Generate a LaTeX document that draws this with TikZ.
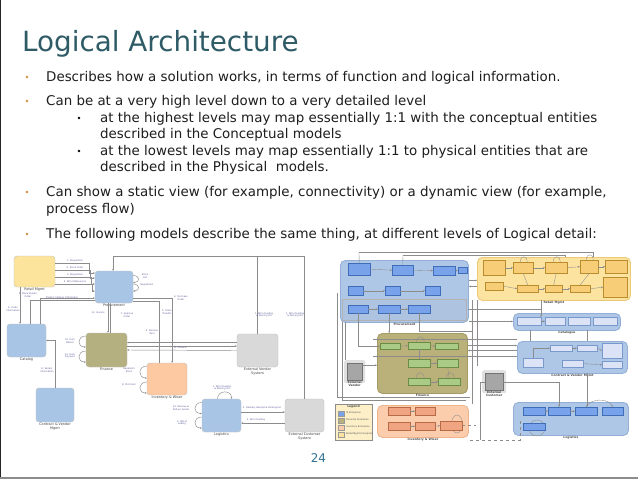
\documentclass[tikz,border=0pt]{standalone}
\usepackage{fontspec}
\setmainfont{DejaVu Sans}
\usetikzlibrary{arrows.meta}
\definecolor{titlec}{HTML}{2E5B66}
\definecolor{bulc}{HTML}{D08B40}
\definecolor{txt}{HTML}{1E1E1E}
\definecolor{pgc}{HTML}{2F7391}
\definecolor{lblue}{HTML}{A9C5E6}
\definecolor{lyel}{HTML}{FCE49C}
\definecolor{lolive}{HTML}{B5B07F}
\definecolor{lpeach}{HTML}{FCC9A3}
\definecolor{lgray}{HTML}{D9D9D9}
\definecolor{lnc}{HTML}{8C8C8C}
\definecolor{labc}{HTML}{5A5A9A}
\definecolor{rgblue}{HTML}{AFC7E6}
\definecolor{rgblueD}{HTML}{93AFD6}
\definecolor{rinblue}{HTML}{78A3EA}
\definecolor{rinblueD}{HTML}{3F6DB8}
\definecolor{rinlav}{HTML}{DCE3F6}
\definecolor{rgyel}{HTML}{FCE3A0}
\definecolor{rgyelD}{HTML}{EBC977}
\definecolor{rinyel}{HTML}{F8CD78}
\definecolor{rinyelD}{HTML}{B98C2E}
\definecolor{rgolive}{HTML}{BAB07A}
\definecolor{rgoliveD}{HTML}{A39A66}
\definecolor{ringreen}{HTML}{A9CB85}
\definecolor{ringreenD}{HTML}{6B8C45}
\definecolor{rgpeach}{HTML}{FBCDAC}
\definecolor{rgpeachD}{HTML}{EDB48E}
\definecolor{rinsal}{HTML}{F0A482}
\definecolor{rinsalD}{HTML}{B86A45}
\begin{document}
\begin{tikzpicture}[x=1pt,y=-1pt,
  bodytext/.style={anchor=base west, inner sep=0pt, font=\fontsize{13.4}{16}\selectfont, text=txt},
  bul/.style={circle, fill=bulc, minimum size=2.8pt, inner sep=0pt},
  sbul/.style={circle, fill=black, minimum size=2.6pt, inner sep=0pt},
  lbox/.style={draw=black!25, rounded corners=3pt, line width=0.4pt, inner sep=0pt},
  lab/.style={font=\fontsize{3.4}{3.8}\selectfont, text=black!75, inner sep=0.5pt, align=center},
  elab/.style={font=\fontsize{2.3}{2.6}\selectfont, text=labc, inner sep=0pt, align=center},
  ln/.style={draw=lnc, line width=0.45pt},
  arr/.style={-{Stealth[length=2pt,width=1.8pt]}},
  rgrp/.style={rounded corners=5pt, line width=0.9pt, inner sep=0pt, anchor=north west},
  rin/.style={line width=0.4pt, inner sep=0pt, anchor=north west},
  rlab/.style={font=\fontsize{3}{3.4}\selectfont\bfseries, text=black!70, inner sep=0.5pt, align=center},
  rl/.style={draw=black!45, line width=0.35pt}]
\useasboundingbox (0,0) rectangle (638,479);
\fill[white] (0,0) rectangle (638,479);
\draw[black!85, line width=1.4pt] (0.7,0) -- (0.7,479);
\draw[black!45, line width=2.2pt] (0,477.9) -- (638,477.9);

% ---------- title and text
\node[anchor=base west, inner sep=0pt, font=\fontsize{27.8}{30}\selectfont, text=titlec] (title) at (22,51) {Logical Architecture};
\node[bul] (b1) at (27,77) {};
\node[bul] (b2) at (27,101) {};
\node[bul] (b3) at (27,192) {};
\node[bul] (b4) at (27,234) {};
\node[sbul] (s1) at (79,118) {};
\node[sbul] (s2) at (79,151) {};
\node[bodytext] (t1) at (46,81) {Describes how a solution works, in terms of function and logical information.};
\node[bodytext] (t2) at (46,105) {Can be at a very high level down to a very detailed level};
\node[bodytext] (t3) at (100,122) {at the highest levels may map essentially 1:1 with the conceptual entities};
\node[bodytext] (t4) at (100,138) {described in the Conceptual models};
\node[bodytext] (t5) at (100,155) {at the lowest levels may map essentially 1:1 to physical entities that are};
\node[bodytext] (t6) at (100,171) {described in the Physical\ \ models.};
\node[bodytext] (t7) at (46,196) {Can show a static view (for example, connectivity) or a dynamic view (for example,};
\node[bodytext] (t8) at (46,213) {process flow)};
\node[bodytext] (t9) at (46,238) {The following models describe the same thing, at different levels of Logical detail:};
\node[font=\fontsize{12}{12}\selectfont, text=pgc, inner sep=0pt] (pnum) at (318.5,458) {24};

% ---------- left diagram: boxes
\node[lbox, fill=lyel, minimum width=41pt, minimum height=31pt, label={[lab]below:Retail Mgmt}] (retail) at (34.5,271.5) {};
\node[lbox, fill=lblue, minimum width=38pt, minimum height=32pt, label={[lab]below:Procurement}] (proc) at (114,287) {};
\node[lbox, fill=lblue, minimum width=39pt, minimum height=33pt, label={[lab]below:Catalog}] (cat) at (26.5,340.5) {};
\node[lbox, fill=lolive, minimum width=41pt, minimum height=34pt, label={[lab]below:Finance}] (fin) at (106.5,350) {};
\node[lbox, fill=lpeach, minimum width=40pt, minimum height=32pt, label={[lab]below:Inventory \& Wiser}] (inv) at (167,379) {};
\node[lbox, fill=lgray, minimum width=41pt, minimum height=33pt, label={[lab]below:External Vendor\\System}] (extv) at (257.5,350.5) {};
\node[lbox, fill=lblue, minimum width=38pt, minimum height=34pt, label={[lab]below:Contract \& Vendor\\Mgmt}] (cvm) at (55,405) {};
\node[lbox, fill=lblue, minimum width=39pt, minimum height=33pt, label={[lab]below:Logistics}] (log) at (221.5,415.5) {};
\node[lbox, fill=lgray, minimum width=39pt, minimum height=33pt, label={[lab]below:External Customer\\System}] (extc) at (304.5,415.5) {};

% ---------- left diagram: connectors
\coordinate (tl) at (113,256);
\draw[ln,arr] (extc.north) |- (tl) -- (proc.north -| tl);
\draw[ln] (extv.north) -- (extv.north |- tl);
\draw[ln,arr] ([yshift=8.5pt]retail.east) -| ([xshift=-6pt,yshift=14pt]proc.west) -- ([yshift=14pt]proc.west);
\draw[ln,arr] ([yshift=1.5pt]retail.east) -| ([xshift=-5pt,yshift=9pt]proc.west) -- ([yshift=9pt]proc.west);
\draw[ln,arr] ([yshift=-5.5pt]retail.east) -| ([xshift=-4pt,yshift=3pt]proc.west) -- ([yshift=3pt]proc.west);
\draw[ln,arr] ([yshift=-12.5pt]retail.east) -| ([xshift=-3pt,yshift=-4pt]proc.west) -- ([yshift=-4pt]proc.west);
\draw[ln,arr] ([xshift=13.5pt]cat.north) |- ([yshift=-11pt]proc.west);
\draw[ln] ([xshift=3.5pt]cat.north) |- ([yshift=-13pt]proc.west);
\draw[ln,arr] ([xshift=-14.5pt]retail.south) -- ([xshift=-14.5pt]retail.south |- cat.north);
\draw[ln,arr] ([xshift=-6pt]proc.south) -- ([xshift=-6pt]proc.south |- fin.north);
\draw[ln,arr] ([xshift=4pt]fin.north) -- ([xshift=4pt]fin.north |- proc.south);
\draw[ln,arr] ([yshift=-11pt]proc.east) -| ([xshift=5pt]inv.north);
\draw[ln] ([yshift=-14pt]proc.east) -| ([xshift=-8pt]inv.north);
\draw[ln,arr] ([yshift=8pt]extv.west) -- ([yshift=8pt]extv.west -| fin.east);
\draw[ln,arr] ([yshift=4pt]fin.east) -- ([yshift=4pt]fin.east -| extv.west);
\draw[ln,arr] (extv.west) -- (fin.east);
\draw[ln,arr] (cvm.north) |- (cat.east);
\draw[ln,arr] ([yshift=3.5pt]log.east) -- ([yshift=3.5pt]log.east -| extc.west);
\draw[ln,arr] ([yshift=-7.5pt]extc.west) -- ([yshift=-7.5pt]extc.west -| log.east);
% self loops
\draw[ln,arr] ([yshift=11.5pt]proc.east) .. controls +(7,0) and +(7,0) .. ([yshift=4.5pt]proc.east);
\draw[ln,arr] ([yshift=3pt]proc.east) .. controls +(7,0) and +(7,0) .. ([yshift=-4pt]proc.east);
\draw[ln,arr] ([yshift=14pt]fin.west) .. controls +(-9,0) and +(-9,0) .. ([yshift=3pt]fin.west);
\draw[ln,arr] ([yshift=-1pt]fin.west) .. controls +(-9,0) and +(-9,0) .. ([yshift=-12pt]fin.west);
\draw[ln,arr] ([yshift=13pt]inv.west) .. controls +(-9,0) and +(-9,0) .. ([yshift=1pt]inv.west);
\draw[ln,arr] ([yshift=-3pt]inv.west) .. controls +(-9,0) and +(-9,0) .. ([yshift=-14pt]inv.west);
\draw[ln,arr] ([yshift=13pt]log.west) .. controls +(-9,0) and +(-9,0) .. ([yshift=2pt]log.west);
\draw[ln,arr] ([yshift=-1.5pt]log.west) .. controls +(-9,0) and +(-9,0) .. ([yshift=-12.5pt]log.west);
\draw[ln,arr] ([xshift=-4pt]log.north) .. controls +(0,-9) and +(0,-9) .. ([xshift=10pt]log.north);
% edge labels
\foreach \n/\x/\y/\t in {
  el1/75/261/{1. Requisition}, el2/75/268/{2. Stock Order}, el3/75/275/{3. Requisition},
  el4/75/282/{4. Bill of Resources}, el5/28/295/{5. Place Vendor\\Order}, el6/62/298/{Product Catalog Information},
  el7/13/309/{6. Order\\Information}, el8/145/276/{Stock\\List}, el9/147/285/{Requisition},
  el10/98/313/{13. Invoice}, el11/127/315/{7. Approve\\Order}, el12/181/298/{4. Purchase\\Order},
  el13/167/312/{5. Stock\\Transfer}, el14/152/332/{9. Receive\\Item}, el15/70/341/{10. Item\\Master},
  el16/70/356/{12. Item\\Payment}, el17/180/348/{11. Invoice}, el18/129/370/{Replenish\\Stock},
  el19/129/385/{8. Pick Item}, el20/47/370/{8. Vendor\\Information},
  el21/264/315/{1. Bill of Lading\\\& Packing list}, el22/295/315/{1. Bill of Lading\\\& Packing list},
  el23/181/408/{14. Receive \&\\Deliver Goods}, el24/182/423/{9. Bill of\\Lading},
  el25/222/388/{1. Bill of Lading\\\& Packing list}, el26/262/408/{2. Delivery Receipt \& Packing list},
  el27/256/420/{3. Bill of Lading}}
  \node[elab] (\n) at (\x,\y) {\t};

% ---------- right diagram: groups
\node[rgrp, fill=rgblue, draw=rgblueD, minimum width=128pt, minimum height=62pt, label={[rlab]below:Procurement}] (pg) at (340,260) {};
\node[rin, fill=rgblueD!75, draw=black!30, minimum width=124pt, minimum height=21pt] (pband) at (342,299) {};
\node[rgrp, fill=rgyel, draw=rgyelD, minimum width=153pt, minimum height=43pt, label={[rlab]below:Retail Mgmt}] (rm) at (477,257) {};
\node[rgrp, fill=rgblue, draw=rgblueD, minimum width=107pt, minimum height=17pt, label={[rlab]below:Catalogue}] (cg) at (513,313) {};
\node[rgrp, fill=rgblue, draw=rgblueD, minimum width=110pt, minimum height=32pt, label={[rlab]below:Contract \& Vendor Mgmt}] (cv) at (517,341) {};
\node[rgrp, fill=rgolive, draw=rgoliveD, minimum width=90pt, minimum height=60pt, label={[rlab]below:Finance}] (fg) at (377,333) {};
\node[rgrp, fill=rgpeach, draw=rgpeachD, minimum width=91pt, minimum height=32pt, label={[rlab]below:Inventory \& Wiser}] (ig) at (377,405) {};
\node[rgrp, fill=rgblue, draw=rgblueD, minimum width=115pt, minimum height=33pt, label={[rlab]below:Logistics}] (lg) at (513,402) {};
\node[rin, fill=black!12, minimum width=21pt, minimum height=23pt, rounded corners=2pt] (evh) at (344,360) {};
\node[rin, fill=black!35, draw=black!55, minimum width=15pt, minimum height=17pt, label={[rlab]below:External\\Vendor}] (ev) at (347,363) {};
\node[rin, fill=black!12, minimum width=24pt, minimum height=23pt, rounded corners=2pt] (ech) at (482,370) {};
\node[rin, fill=black!35, draw=black!55, minimum width=18pt, minimum height=17pt, label={[rlab]below:External\\Customer}] (ec) at (485,373) {};

% ---------- right diagram: connectors
\coordinate (tb1) at (359,252);
\coordinate (tb2) at (593,252);
\coordinate (tb3) at (403,255);
\coordinate (tb4) at (565,255);
\draw[rl] (tb1) -- (tb2) -- (tb2 |- rm.north);
\draw[rl] (tb3) -- (tb4) -- (tb4 |- rm.north);
\draw[rl,arr] ([yshift=11pt]pg.east) -- ([yshift=11pt]pg.east -| rm.west);
\draw[rl,arr] ([yshift=5pt]pg.east -| rm.west) -- ([yshift=5pt]pg.east);
\draw[rl] (337,293) -- (337,397) -- (470,397);
\draw[rl] (342,322) -- (342,400) -- (466,400);
\draw[rl] (345,322) -- (345,360);
\draw[rl,arr] ([yshift=6.5pt]ev.east) -- ([yshift=6.5pt]ev.east -| fg.west);
\draw[rl] (472,300) -- (472,404);
\draw[rl] (477,300) -- (477,366);
\draw[rl,arr] ([yshift=-30pt]pg.east) -- ([yshift=-30pt]pg.east -| cg.west);
\draw[rl] (468,309) -- (541,309);
\draw[rl,arr] (541,300) -- (541,317);
\draw[rl] (530,330) -- (530,341);
\draw[rl] (587,330) -- (587,341);
\draw[rl,arr] ([yshift=18pt]fg.east) -- ([yshift=18pt]fg.east -| cv.west);
\draw[rl,arr] ([yshift=13pt]fg.east -| cv.west) -- ([yshift=13pt]fg.east);
\draw[rl] (373,356) -- (517,356);
\draw[rl] (373,339) -- (517,339);
\draw[rl,arr] (587,373) -- (587,407);
\draw[rl,arr] (ec.east) -| (559,407);
\draw[rl] (ec.west) -| (480,440);
\draw[rl,dashed] (470,440) -- (520,440) -- (520,421);
\draw[rl,dashed] (462,425) -- (476,425);
\draw[rl] (537,428) circle (8);
\draw[rl] (457,424) ellipse (5.5 and 9);

% ---------- right diagram: inner boxes
\foreach \n/\x/\y/\w/\h in {p1/348/263/22/12, p2/392/265/21/10, p3/433/266/22/9, p4/458/267/9/6,
  p5/348/286/15/9, p6/385/286/15/9, p7/425/286/15/9, p8/348/305/20/8, p9/378/305/22/8, p10/408/305/22/8,
  l1/523/407/22/8, l2/548/407/22/8, l3/575/407/22/8, l4/602/407/21/8, l5/523/423/22/7}
  \node[rin, fill=rinblue, draw=rinblueD, minimum width=\w pt, minimum height=\h pt] (\n) at (\x,\y) {};
\foreach \n/\x/\y/\w/\h in {c1/517/317/24/8, c2/545/317/20/8, c3/568/317/22/8, c4/593/317/24/8,
  v1/523/358/20/9, v2/550/345/22/6, v3/577/345/20/6, v4/602/343/20/15, v5/562/360/21/7, v6/602/361/20/7}
  \node[rin, fill=rinlav, draw=rinblueD!70, minimum width=\w pt, minimum height=\h pt] (\n) at (\x,\y) {};
\foreach \n/\x/\y/\w/\h in {r1/483/260/22/15, r2/513/262/20/11, r3/545/262/22/11, r4/580/260/18/13, r5/605/260/22/13,
  r6/485/282/18/8, r7/517/285/21/7, r8/545/285/17/7, r9/570/285/20/7, r10/603/277/24/20}
  \node[rin, fill=rinyel, draw=rinyelD, minimum width=\w pt, minimum height=\h pt] (\n) at (\x,\y) {};
\foreach \n/\x/\y/\w/\h in {f1/380/343/20/6, f2/408/342/22/7, f3/435/343/23/6, f4/408/359/22/8, f5/437/359/21/8,
  f6/408/378/22/7, f7/438/378/22/7}
  \node[rin, fill=ringreen, draw=ringreenD, minimum width=\w pt, minimum height=\h pt] (\n) at (\x,\y) {};
\foreach \n/\x/\y/\w/\h in {i1/388/407/22/8, i2/415/407/20/8, i3/388/422/22/8, i4/415/422/20/8, i5/440/421/22/9}
  \node[rin, fill=rinsal, draw=rinsalD, minimum width=\w pt, minimum height=\h pt] (\n) at (\x,\y) {};
\draw[rl,arr] (p1.east) -- (p2.west);
\draw[rl,arr] (p2.east) -- (p3.west);
\draw[rl,arr] (p3.east) -- (p4.west);
\draw[rl,arr] (p5.east) -- (p6.west);
\draw[rl,arr] (p6.east) -- (p7.west);
\draw[rl,arr] (p8.east) -- (p9.west);
\draw[rl,arr] (p9.east) -- (p10.west);
\draw[rl] (p1.north) -- (tb1);
\draw[rl] (p2.north) -- (tb3);
\draw[rl,arr] (p8.south) |- (f1.west);
\draw[rl,arr] (p9.south) -- (p9.south |- fg.north);
\draw[rl] (p10.south) |- (472,331);
\draw[rl,arr] (r1.east) -- (r2.west);
\draw[rl,arr] (r2.east) -- (r3.west);
\draw[rl,arr] (r3.east) -- (r4.west);
\draw[rl,arr] (r4.east) -- (r5.west);
\draw[rl,arr] (r6.east) -- (r7.west);
\draw[rl,arr] (r7.east) -- (r8.west);
\draw[rl,arr] (r8.east) -- (r9.west);
\draw[rl,arr] (r9.east) -- (r10.west);
\draw[rl] (r2.south) -- (r7.north);
\draw[rl] (r3.south) -- (r8.north);
\draw[rl] (r4.south) -- (r9.north);
\draw[rl] ([xshift=-3pt]r2.north) .. controls +(0,-7) and +(0,-7) .. ([xshift=4pt]r2.north);
\draw[rl] ([xshift=-3pt]r3.north) .. controls +(0,-7) and +(0,-7) .. ([xshift=4pt]r3.north);
\draw[rl] ([xshift=-3pt]r4.north) .. controls +(0,-7) and +(0,-7) .. ([xshift=4pt]r4.north);
\draw[rl,arr] (c1.east) -- (c2.west);
\draw[rl,arr] (v1.north) |- (v2.west);
\draw[rl,arr] (v2.east) -- (v3.west);
\draw[rl,arr] (v3.east) -- (v4.west);
\draw[rl,arr] (v5.east) -- (v6.west);
\draw[rl,arr] (f1.east) -- (f2.west);
\draw[rl,arr] (f2.east) -- (f3.west);
\draw[rl,arr] (f4.east) -- (f5.west);
\draw[rl,arr] (f6.east) -- (f7.west);
\draw[rl] (f2.south) -- (f4.north);
\draw[rl] (f5.south) -- (f7.north);
\draw[rl] ([xshift=-3pt]f2.north) .. controls +(0,-7) and +(0,-7) .. ([xshift=5pt]f2.north);
\draw[rl] ([xshift=-3pt]f6.north) .. controls +(0,-7) and +(0,-7) .. ([xshift=5pt]f6.north);
\draw[rl] ([xshift=-3pt]f7.north) .. controls +(0,-7) and +(0,-7) .. ([xshift=5pt]f7.north);
\draw[rl,arr] (i1.east) -- (i2.west);
\draw[rl,arr] (i3.east) -- (i4.west);
\draw[rl,arr] (i4.east) -- (i5.west);
\draw[rl,arr] (l1.east) -- (l2.west);
\draw[rl,arr] (l2.east) -- (l3.west);
\draw[rl,arr] (l3.north) .. controls +(4,-9) and +(-4,-9) .. (l4.north);

% ---------- legend
\node[rin, fill=lyel!55, draw=black!45, minimum width=37pt, minimum height=36pt] (lgd) at (335,404) {};
\node[rlab, anchor=north] (lgdt) at (353.5,405) {Legend};
\foreach \n/\y/\c/\t in {sw1/411/rinblue/{IS Enterprise}, sw2/418/rgolive/{Financial Enterprise},
  sw3/425/rgpeach/{Inventory Enterprise}, sw4/432/rgyel/{Retail Mgmt Enterprise}}{
  \node[rin, fill=\c, draw=black!40, minimum width=6pt, minimum height=4.5pt] (\n) at (337.5,\y) {};
  \node[elab, anchor=west, text=black!70] (\n t) at (346,\y+2.3) {\t};
}
\end{tikzpicture}
\end{document}
